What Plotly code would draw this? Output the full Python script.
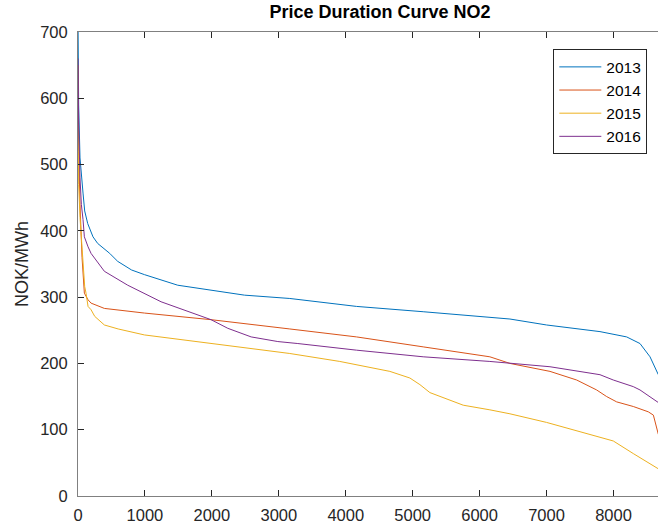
import plotly.graph_objects as go

# Hours (sorted duration) and prices (NOK/MWh)
hours_2013 = [0, 10, 30, 50, 75, 100, 145, 224, 294, 474, 593, 800, 992, 1490, 1988, 2487, 3164,
              4161, 5157, 6453, 7000, 7798, 8197, 8396, 8546, 8620, 8670]
price_2013 = [720, 590, 510, 480, 457, 430, 411, 391, 381, 366, 354, 341, 334, 318, 310, 303, 298,
              286, 278, 267, 258, 248, 240, 230, 210, 195, 183]

hours_2014 = [0, 10, 30, 60, 95, 150, 195, 394, 992, 1988, 3164, 4161, 5157, 6153, 6453, 7051,
              7450, 7748, 7898, 8047, 8296, 8520, 8596, 8646, 8670]
price_2014 = [650, 520, 440, 360, 306, 296, 291, 283, 276, 266, 252, 240, 225, 210, 200, 188,
              175, 160, 150, 142, 135, 127, 122, 100, 93]

hours_2015 = [0, 10, 30, 50, 70, 100, 120, 150, 195, 250, 394, 600, 992, 1988, 3164, 3911, 4409,
              4659, 4958, 5108, 5257, 5456, 5755, 6153, 6453, 7000, 7748, 7997, 8296, 8496, 8670]
price_2015 = [560, 470, 420, 386, 356, 316, 306, 286, 281, 271, 258, 252, 243, 230, 215, 203, 193,
              188, 178, 168, 156, 148, 137, 130, 124, 111, 90, 83, 64, 52, 41]

hours_2016 = [0, 10, 30, 50, 75, 95, 150, 195, 394, 743, 1241, 1640, 1988, 2238, 2587, 2985, 3284,
              4161, 5157, 6153, 6453, 7051, 7798, 7997, 8296, 8396, 8670]
price_2016 = [660, 560, 480, 440, 417, 391, 376, 366, 339, 318, 293, 278, 266, 253, 240, 233, 230,
              220, 210, 203, 200, 195, 183, 175, 165, 160, 141]

series = [
    ("2013", hours_2013, price_2013, "#0072BD"),
    ("2014", hours_2014, price_2014, "#D95319"),
    ("2015", hours_2015, price_2015, "#EDB120"),
    ("2016", hours_2016, price_2016, "#7E2F8E"),
]

x_ticks = [0, 1000, 2000, 3000, 4000, 5000, 6000, 7000, 8000]
y_ticks = [0, 100, 200, 300, 400, 500, 600, 700]

fig = go.Figure()
for name, xs, ys, col in series:
    fig.add_trace(go.Scatter(x=xs, y=ys, mode="lines", name=name,
                             line=dict(color=col, width=1)))

axis_col = "#808080"
font_col = "#262626"
fig.update_layout(
    width=658, height=527,
    margin=dict(l=78, r=0, t=32, b=31),
    plot_bgcolor="white", paper_bgcolor="white",
    font=dict(family="Liberation Sans, Arial, sans-serif", size=16.5, color=font_col),
    title=dict(text="<b>Price Duration Curve NO2</b>", x=380 / 658, xanchor="center",
               y=1 - 12 / 527, yanchor="middle", font=dict(size=18, color="#000000")),
    showlegend=True,
    legend=dict(x=0.9816, xanchor="right", y=0.9627, yanchor="top",
                bgcolor="white", bordercolor=font_col, borderwidth=1, itemwidth=42,
                font=dict(size=15.5, color="#000000")),
    xaxis=dict(range=[0, 8665], tickvals=x_ticks, ticktext=[str(v) for v in x_ticks],
               showgrid=False, zeroline=False, showline=True, linecolor=axis_col, linewidth=1,
               mirror="ticks", ticks="inside", ticklen=6, tickcolor=font_col, tickwidth=1,
               ticklabelstandoff=4),
    yaxis=dict(range=[0, 700], tickvals=y_ticks, ticktext=[str(v) for v in y_ticks],
               showgrid=False, zeroline=False, showline=True, linecolor=axis_col, linewidth=1,
               mirror=False, ticks="inside", ticklen=6, tickcolor=font_col, tickwidth=1,
               ticklabelstandoff=6,
               title=dict(text="NOK/MWh", standoff=6, font=dict(size=18))),
)

fig.write_html("out.html")
